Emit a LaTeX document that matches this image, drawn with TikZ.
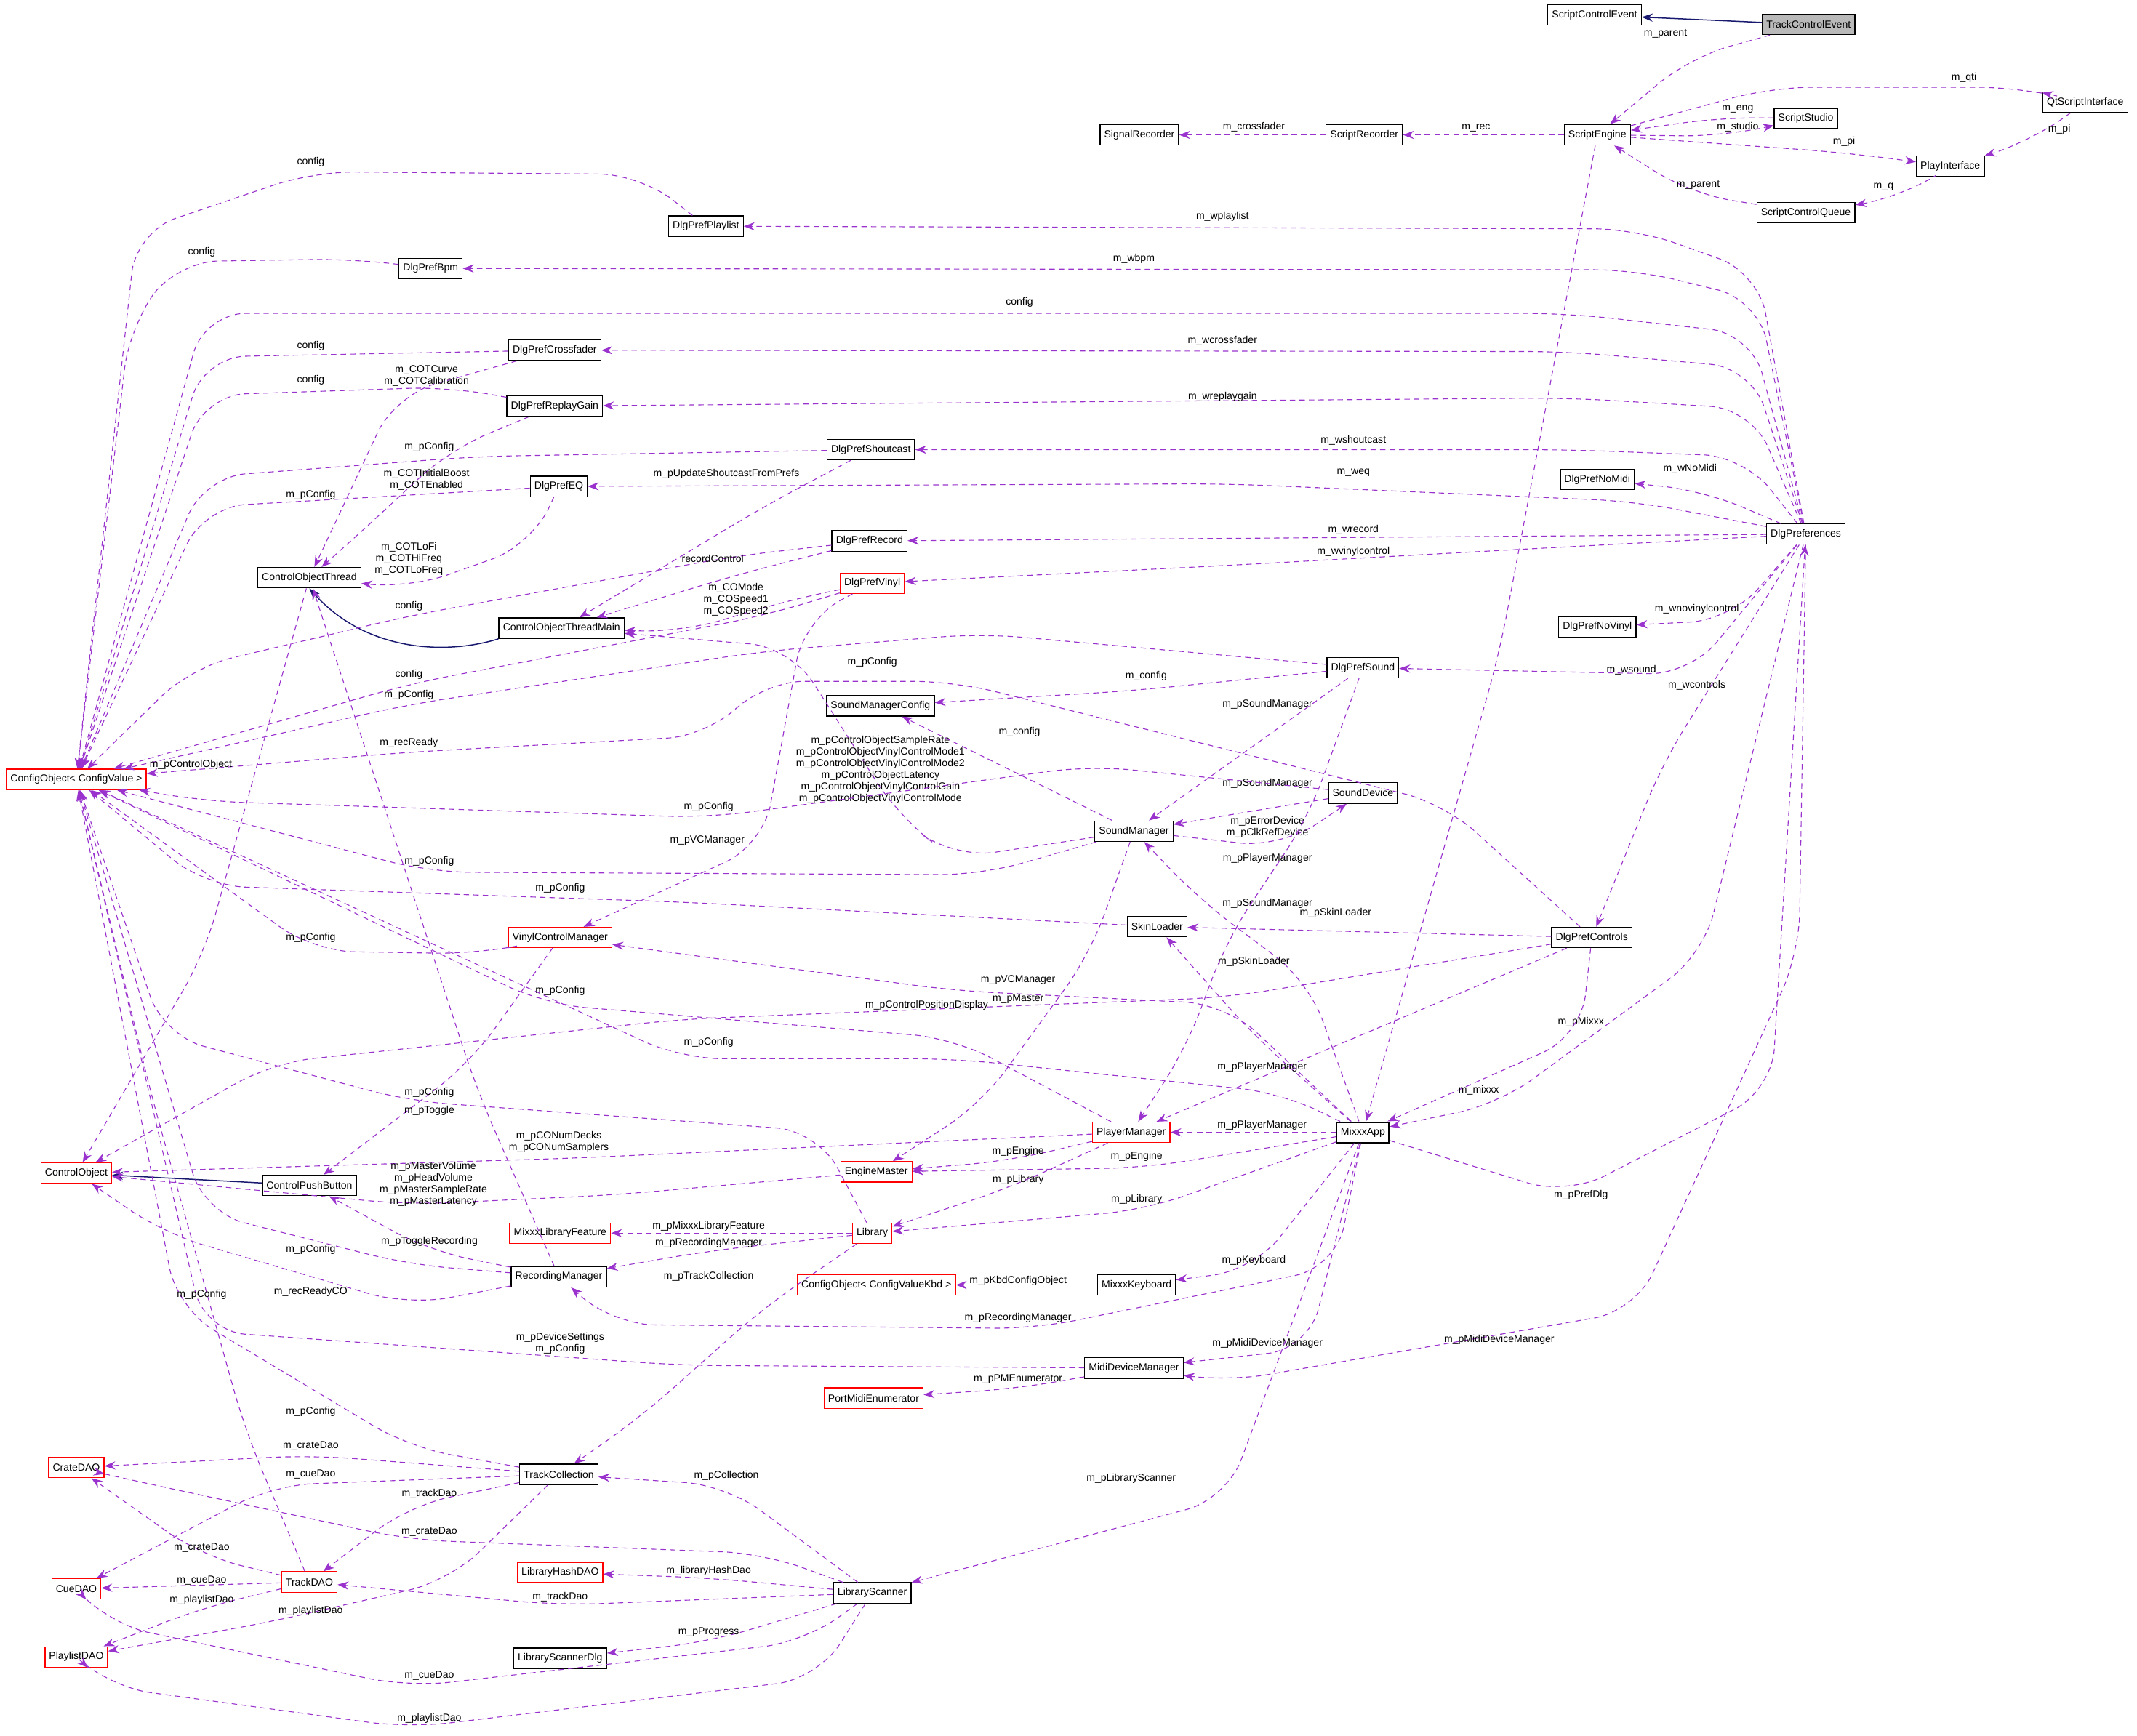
\documentclass[tikz,border=0pt]{standalone}
\usepackage{fontspec}
\setmainfont{Liberation Sans}
\usetikzlibrary{arrows.meta}
\definecolor{ec}{HTML}{9A32CD}
\definecolor{ic}{HTML}{191970}
\tikzset{
 cls/.style={draw=black,fill=white,font=\fontsize{7.5}{8}\selectfont,inner sep=3pt,minimum height=15pt,line width=0.7pt},
 rcls/.style={cls,draw=red},
 lbl/.style={font=\fontsize{7.5}{8.5}\selectfont,align=center,inner sep=0.5pt},
 e/.style={ec,dashed,dash pattern=on 4pt off 3pt,line width=0.6pt,rounded corners=30pt,-{Stealth[length=8pt,width=6pt]}},
 inh/.style={ic,line width=0.8pt,-{Stealth[length=8pt,width=6pt]}}
}
\newcommand\lb[2]{\node[lbl] at (#1) {#2};}
\begin{document}
\begin{tikzpicture}[x=1pt,y=-1pt]
\useasboundingbox (0,0) rectangle (1568,1273.6);
% nodes
\node[cls] (SCE) at (1170,11) {ScriptControlEvent};
\node[cls,fill=gray!55] (TCE) at (1327,18) {TrackControlEvent};
\node[cls] (QSI) at (1530,75) {QtScriptInterface};
\node[cls] (SS) at (1325,87) {ScriptStudio};
\node[cls] (SE) at (1172,99) {ScriptEngine};
\node[cls] (SR) at (1001,99) {ScriptRecorder};
\node[cls] (SigR) at (836,99) {SignalRecorder};
\node[cls] (PI) at (1431,122) {PlayInterface};
\node[cls] (SCQ) at (1325,156) {ScriptControlQueue};
\node[cls] (DPP) at (518,166) {DlgPrefPlaylist};
\node[cls] (DPB) at (316,197) {DlgPrefBpm};
\node[cls] (DPC) at (407,257) {DlgPrefCrossfader};
\node[cls] (DPRG) at (407,298) {DlgPrefReplayGain};
\node[cls] (DPS) at (639,330) {DlgPrefShoutcast};
\node[cls] (DPNM) at (1172,352) {DlgPrefNoMidi};
\node[cls] (DPEQ) at (410,357) {DlgPrefEQ};
\node[cls] (DPR) at (638,397) {DlgPrefRecord};
\node[cls] (DP) at (1325,392) {DlgPreferences};
\node[cls] (COT) at (227,424) {ControlObjectThread};
\node[rcls] (DPV) at (640,428) {DlgPrefVinyl};
\node[cls] (COTM) at (412,461) {ControlObjectThreadMain};
\node[cls] (DPNV) at (1172,460) {DlgPrefNoVinyl};
\node[cls] (DPSo) at (1000,490) {DlgPrefSound};
\node[cls] (SMC) at (646,518) {SoundManagerConfig};
\node[rcls] (CO) at (56,572) {ConfigObject< ConfigValue >};
\node[cls] (SD) at (1000,582) {SoundDevice};
\node[cls] (SM) at (832,610) {SoundManager};
\node[cls] (SL) at (849,680) {SkinLoader};
\node[rcls] (VCM) at (411,688) {VinylControlManager};
\node[cls] (DPCt) at (1168,688) {DlgPrefControls};
\node[rcls] (PM) at (830,831) {PlayerManager};
\node[cls,line width=1.1pt] (MA) at (1000,831) {MixxxApp};
\node[rcls] (CtO) at (56,861) {ControlObject};
\node[rcls] (EM) at (643,860) {EngineMaster};
\node[cls] (CPB) at (227,870) {ControlPushButton};
\node[rcls] (MLF) at (411,905) {MixxxLibraryFeature};
\node[rcls] (Lib) at (640,905) {Library};
\node[cls] (RM) at (410,937) {RecordingManager};
\node[rcls] (COK) at (643,943) {ConfigObject< ConfigValueKbd >};
\node[cls] (MK) at (834,943) {MixxxKeyboard};
\node[cls] (MDM) at (832,1004) {MidiDeviceManager};
\node[rcls] (PME) at (641,1026) {PortMidiEnumerator};
\node[rcls] (Crate) at (56,1077) {CrateDAO};
\node[cls] (TC) at (410,1082) {TrackCollection};
\node[rcls] (LHD) at (411,1154) {LibraryHashDAO};
\node[rcls] (TD) at (227,1161) {TrackDAO};
\node[rcls] (Cue) at (56,1166) {CueDAO};
\node[cls] (LS) at (640,1169) {LibraryScanner};
\node[rcls] (PL) at (56,1216) {PlaylistDAO};
\node[cls] (LSD) at (411,1217) {LibraryScannerDlg};

% inheritance
\draw[inh] (TCE) -- (SCE);
\draw[inh] (COTM.south west) .. controls (330,480) and (270,480) .. (COT.south);
\draw[inh] (CPB) -- (CtO);

% script area
\draw[e] (TCE) -- (1240,42) -- (SE);\lb{1222,25}{m\_parent}
\draw[e] (SE) -- (1300,64) -- (1480,64) -- (QSI);\lb{1441,57}{m\_qti}
\draw[e] (SS) -- (1265,86) -- (SE);\lb{1275,80}{m\_eng}
\draw[e] (SE) -- (1265,100) -- (SS);\lb{1275,93}{m\_studio}
\draw[e] (SE) -- (1353,112) -- (PI);\lb{1353,104}{m\_pi}
\draw[e] (QSI) -- (1490,104) -- (PI);\lb{1511,95}{m\_pi}
\draw[e] (SCQ) -- (1240,142) -- (SE);\lb{1246,136}{m\_parent}
\draw[e] (PI) -- (1395,145) -- (SCQ);\lb{1382,137}{m\_q}
\draw[e] (SE) -- (SR);\lb{1083,94}{m\_rec}
\draw[e] (SR) -- (SigR);\lb{920,93}{m\_crossfader}
\draw[e] (SE) -- (1100,480) -- (MA);

% DlgPreferences fan
\draw[e] (DP) -- (1290,200) -- (1200,168) -- (DPP);\lb{897,159}{m\_wplaylist}
\draw[e] (DP) -- (1290,220) -- (1200,198) -- (DPB);\lb{832,190}{m\_wbpm}
\draw[e] (DP) -- (1285,245) -- (1150,230) -- (150,230) -- (CO);\lb{748,222}{config}
\draw[e] (DP) -- (1285,270) -- (1150,258) -- (DPC);\lb{897,250}{m\_wcrossfader}
\draw[e] (DP) -- (1285,300) -- (1150,292) -- (DPRG);\lb{897,291}{m\_wreplaygain}
\draw[e] (DP) -- (1280,335) -- (1150,330) -- (DPS);\lb{993,323}{m\_wshoutcast}
\draw[e] (DP) -- (1250,360) -- (DPNM);\lb{1240,344}{m\_wNoMidi}
\draw[e] (DP) -- (1200,368) -- (900,355) -- (DPEQ);\lb{993,347}{m\_weq}
\draw[e] (DP) -- (DPR);\lb{993,389}{m\_wrecord}
\draw[e] (DP) -- (1100,404) -- (900,415) -- (DPV);\lb{993,405}{m\_wvinylcontrol}
\draw[e] (DP) -- (1270,455) -- (DPNV);\lb{1245,447}{m\_wnovinylcontrol}
\draw[e] (DP) -- (1240,495) -- (DPSo);\lb{1197,492}{m\_wsound}
\draw[e] (DP) -- (1220,560) -- (DPCt);\lb{1245,503}{m\_wcontrols}

% dialogs -> ConfigObject
\draw[e] (DPP) -- (470,128) -- (230,126) -- (100,170) -- (CO);\lb{228,119}{config}
\draw[e] (DPB) -- (260,190) -- (130,192) -- (95,240) -- (CO);\lb{148,185}{config}
\draw[e] (DPC) -- (150,262) -- (CO);\lb{228,254}{config}
\draw[e] (DPRG) -- (330,284) -- (150,290) -- (CO);\lb{228,279}{config}
\draw[e] (DPS) -- (350,335) -- (150,350) -- (CO);\lb{315,328}{m\_pConfig}
\draw[e] (DPEQ) -- (150,372) -- (CO);\lb{228,363}{m\_pConfig}
\draw[e] (DPR) -- (540,408) -- (300,452) -- (140,490) -- (CO);\lb{300,445}{config}
\draw[e] (DPV) -- (560,452) -- (300,502) -- (CO);\lb{300,495}{config}
\draw[e] (DPSo) -- (720,465) -- (560,478) -- (300,517) -- (CO);\lb{300,510}{m\_pConfig}
\draw[e] (DPCt) -- (1060,590) -- (700,500) -- (560,500) -- (520,540) -- (300,552) -- (CO);\lb{640,486}{m\_pConfig}

% ControlObjectThread
\draw[e] (DPC) -- (290,290) -- (COT);\lb{313,276}{m\_COTCurve\\m\_COTCalibration}
\draw[e] (DPRG) -- (330,330) -- (260,395) -- (COT);\lb{313,352}{m\_COTInitialBoost\\m\_COTEnabled}
\draw[e] (DPEQ) -- (390,400) -- (300,432) -- (COT);\lb{300,410}{m\_COTLoFi\\m\_COTHiFreq\\m\_COTLoFreq}
\draw[e] (RM) -- (350,800) -- (COT);\lb{300,545}{m\_recReady}
\draw[e] (COT) -- (150,700) -- (CtO);\lb{140,561}{m\_pControlObject}

% ControlObjectThreadMain
\draw[e] (DPS) -- (560,372) -- (COTM);\lb{533,348}{m\_pUpdateShoutcastFromPrefs}
\draw[e] (DPR) -- (540,422) -- (COTM);\lb{523,410}{recordControl}
\draw[e] (DPV) -- (580,440) -- (500,464) -- (COTM);\lb{540,440}{m\_COMode\\m\_COSpeed1\\m\_COSpeed2}
\draw[e] (SM) -- (700,630) -- (660,600) -- (580,475) -- (COTM);
\lb{646,565}{m\_pControlObjectSampleRate\\m\_pControlObjectVinylControlMode1\\m\_pControlObjectVinylControlMode2\\m\_pControlObjectLatency\\m\_pControlObjectVinylControlGain\\m\_pControlObjectVinylControlMode}

% sound area
\draw[e] (DPSo) -- (SM);\lb{930,517}{m\_pSoundManager}
\draw[e] (SD) -- (920,595) -- (SM);\lb{930,575}{m\_pSoundManager}
\draw[e] (SM) -- (940,622) -- (SD);\lb{930,607}{m\_pErrorDevice\\m\_pClkRefDevice}
\draw[e] (SD) -- (800,562) -- (520,600) -- (150,588) -- (CO);\lb{520,592}{m\_pConfig}
\draw[e] (SM) -- (720,642) -- (315,640) -- (CO);\lb{315,632}{m\_pConfig}
\draw[e] (DPV) -- (590,455) -- (560,620) -- (VCM);\lb{519,617}{m\_pVCManager}
\draw[e] (SM) -- (SMC);\lb{748,537}{m\_config}
\draw[e] (DPSo) -- (830,507) -- (SMC);\lb{841,496}{m\_config}
\draw[e] (SM) -- (800,700) -- (720,810) -- (EM);\lb{747,733}{m\_pMaster}
\draw[e] (MA) -- (960,720) -- (880,660) -- (SM);\lb{930,663}{m\_pSoundManager}
\draw[e] (DPSo) -- (960,600) -- (900,690) -- (870,770) -- (PM);\lb{930,630}{m\_pPlayerManager}

% skin loader, vinyl
\draw[e] (SL) -- (500,662) -- (150,650) -- (CO);\lb{411,652}{m\_pConfig}
\draw[e] (DPCt) -- (SL);\lb{980,670}{m\_pSkinLoader}
\draw[e] (MA) -- (920,760) -- (SL);\lb{920,706}{m\_pSkinLoader}
\draw[e] (VCM) -- (350,700) -- (230,698) -- (CO);\lb{228,688}{m\_pConfig}
\draw[e] (VCM) -- (345,780) -- (CPB);\lb{315,815}{m\_pToggle}
\draw[e] (MA) -- (900,737) -- (700,727) -- (VCM);\lb{747,719}{m\_pVCManager}

% controls
\draw[e] (DPCt) -- (900,732) -- (500,748) -- (200,780) -- (CtO);\lb{680,738}{m\_pControlPositionDisplay}
\draw[e] (DPCt) -- (PM);\lb{926,783}{m\_pPlayerManager}
\draw[e] (DPCt) -- (1160,760) -- (MA);\lb{1160,750}{m\_pMixxx}

% player manager
\draw[e] (PM) -- (700,762) -- (400,737) -- (CO);\lb{411,727}{m\_pConfig}
\draw[e] (MA) -- (PM);\lb{926,826}{m\_pPlayerManager}
\draw[e] (PM) -- (420,850) -- (CtO);\lb{410,838}{m\_pCONumDecks\\m\_pCONumSamplers}
\draw[e] (PM) -- (740,852) -- (EM);\lb{747,845}{m\_pEngine}
\draw[e] (PM) -- (740,872) -- (Lib);\lb{747,866}{m\_pLibrary}

% MixxxApp
\draw[e] (MA) -- (840,857) -- (EM);\lb{834,849}{m\_pEngine}
\draw[e] (MA) -- (840,888) -- (Lib);\lb{834,880}{m\_pLibrary}
\draw[e] (MA) -- (940,802) -- (700,777) -- (500,777) -- (CO);\lb{520,765}{m\_pConfig}
\draw[e] (MA) -- (920,932) -- (MK);\lb{920,925}{m\_pKeyboard}
\draw[e] (MA) -- (980,930) -- (760,975) -- (450,972) -- (RM);\lb{747,967}{m\_pRecordingManager}
\draw[e] (MA) -- (960,990) -- (MDM);\lb{930,986}{m\_pMidiDeviceManager}
\draw[e] (MA) -- (900,1100) -- (LS);\lb{830,1085}{m\_pLibraryScanner}
\draw[e] (MA) -- (1150,877) -- (1300,800) -- (DP);\lb{1160,877}{m\_pPrefDlg}
\draw[e] (DP) -- (1250,700) -- (1100,810) -- (MA);\lb{1085,800}{m\_mixxx}
\draw[e] (DP) -- (1320,700) -- (1200,962) -- (900,1014) -- (MDM);\lb{1100,983}{m\_pMidiDeviceManager}

% engine, library
\draw[e] (EM) -- (450,877) -- (300,884) -- (CtO);\lb{318,869}{m\_pMasterVolume\\m\_pHeadVolume\\m\_pMasterSampleRate\\m\_pMasterLatency}
\draw[e] (Lib) -- (600,830) -- (300,808) -- (120,760) -- (CO);\lb{315,802}{m\_pConfig}
\draw[e] (Lib) -- (MLF);\lb{520,900}{m\_pMixxxLibraryFeature}
\draw[e] (Lib) -- (520,918) -- (RM);\lb{520,912}{m\_pRecordingManager}
\draw[e] (Lib) -- (560,960) -- (470,1040) -- (TC);\lb{520,937}{m\_pTrackCollection}

% recording manager
\draw[e] (RM) -- (315,918) -- (CPB);\lb{315,911}{m\_pToggleRecording}
\draw[e] (RM) -- (300,928) -- (150,890) -- (CO);\lb{228,917}{m\_pConfig}
\draw[e] (RM) -- (300,958) -- (120,905) -- (CtO);\lb{228,948}{m\_recReadyCO}

% midi
\draw[e] (MDM) -- (500,1002) -- (150,977) -- (CO);\lb{411,986}{m\_pDeviceSettings\\m\_pConfig}
\draw[e] (MDM) -- (747,1019) -- (PME);\lb{747,1012}{m\_pPMEnumerator}
\draw[e] (MK) -- (COK);\lb{747,940}{m\_pKbdConfigObject}

% track collection
\draw[e] (TC) -- (300,1062) -- (130,960) -- (CO);\lb{228,1036}{m\_pConfig}
\draw[e] (TC) -- (228,1068) -- (Crate);\lb{228,1061}{m\_crateDao}
\draw[e] (TC) -- (200,1090) -- (Cue);\lb{228,1082}{m\_cueDao}
\draw[e] (TC) -- (300,1105) -- (TD);\lb{315,1096}{m\_trackDao}
\draw[e] (TC) -- (330,1160) -- (200,1190) -- (PL);\lb{228,1182}{m\_playlistDao}

% track dao
\draw[e] (TD) -- (180,1050) -- (110,800) -- (CO);\lb{148,950}{m\_pConfig}
\draw[e] (TD) -- (148,1142) -- (Crate);\lb{148,1136}{m\_crateDao}
\draw[e] (TD) -- (Cue);\lb{148,1160}{m\_cueDao}
\draw[e] (TD) -- (148,1180) -- (PL);\lb{148,1174}{m\_playlistDao}

% library scanner
\draw[e] (LS) -- (533,1090) -- (TC);\lb{533,1083}{m\_pCollection}
\draw[e] (LS) -- (560,1140) -- (300,1130) -- (100,1087) -- (Crate);\lb{315,1124}{m\_crateDao}
\draw[e] (LS) -- (520,1158) -- (LHD);\lb{520,1153}{m\_libraryHashDao}
\draw[e] (LS) -- (411,1178) -- (TD);\lb{411,1172}{m\_trackDao}
\draw[e] (LS) -- (520,1205) -- (LSD);\lb{520,1198}{m\_pProgress}
\draw[e] (LS) -- (590,1205) -- (300,1238) -- (80,1192) -- (Cue);\lb{315,1230}{m\_cueDao}
\draw[e] (LS) -- (600,1232) -- (300,1268) -- (80,1238) -- (PL);\lb{315,1261}{m\_playlistDao}
\end{tikzpicture}
\end{document}
